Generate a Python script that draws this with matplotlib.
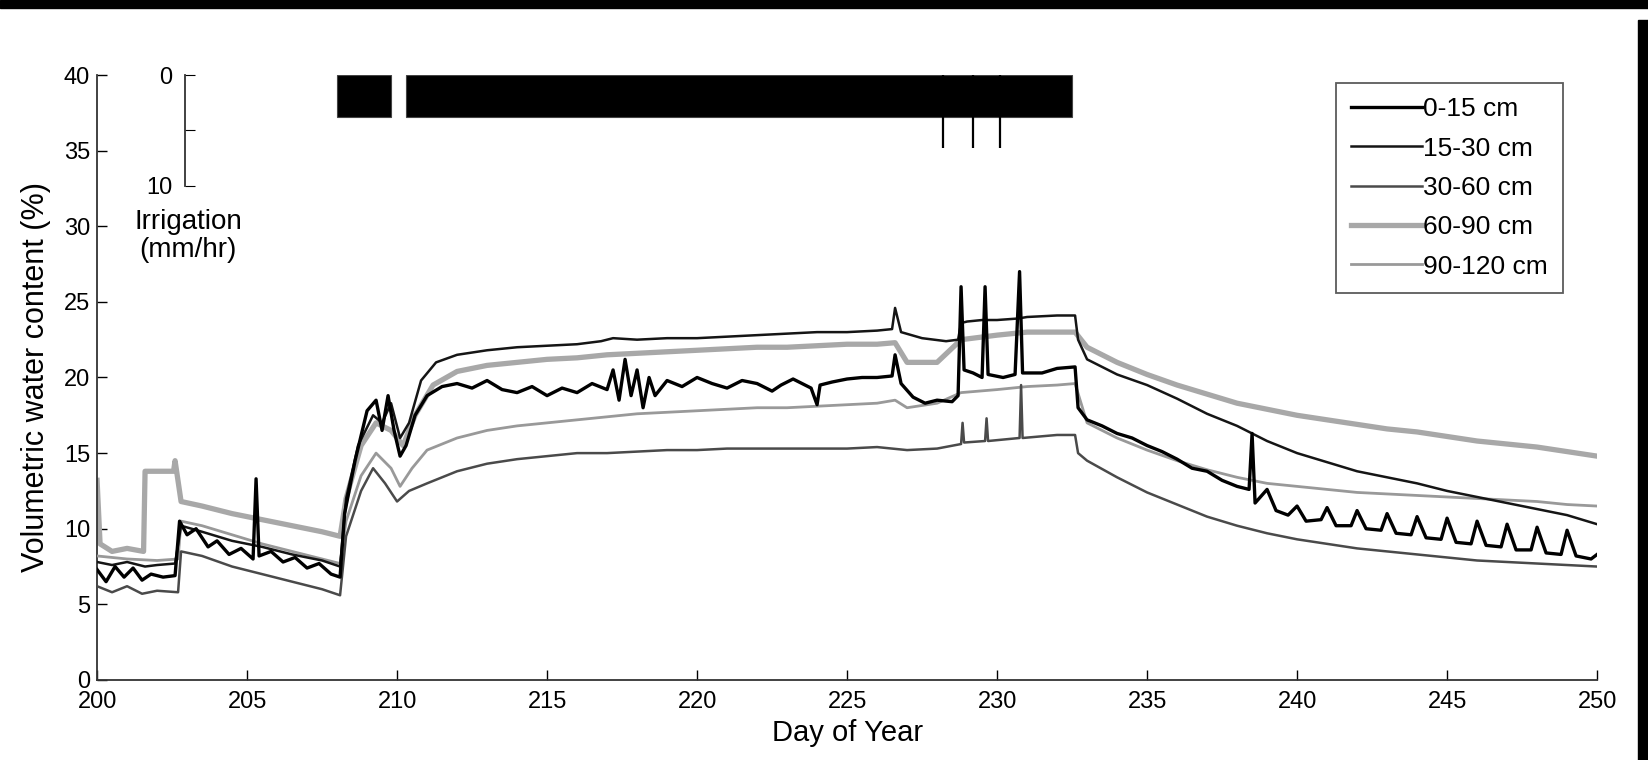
import numpy as np
import matplotlib.pyplot as plt
from matplotlib.patches import Rectangle

plt.rcParams['font.family'] = ['Liberation Sans', 'DejaVu Sans']

# ---------- data ----------
d_0_15 = [200, 200.3, 200.6, 200.9, 201.2, 201.5, 201.8, 202.2, 202.6, 202.75, 203, 203.3, 203.7,
          204, 204.4, 204.8, 205.2, 205.3, 205.4, 205.8, 206.2, 206.6, 207, 207.4, 207.8, 208.1,
          208.25, 208.6, 209, 209.3, 209.5, 209.7, 209.9, 210.1, 210.3, 210.6, 211, 211.5, 212,
          212.5, 213, 213.5, 214, 214.5, 215, 215.5, 216, 216.5, 217, 217.2, 217.4, 217.6, 217.8,
          218, 218.2, 218.4, 218.6, 219, 219.5, 220, 220.5, 221, 221.5, 222, 222.5, 222.8, 223.2,
          223.8, 224, 224.1, 224.5, 225, 225.5, 226, 226.5, 226.6, 226.8, 227.2, 227.6, 228,
          228.5, 228.7, 228.8, 228.9, 229.2, 229.5, 229.6, 229.7, 230.2, 230.6, 230.75, 230.85,
          231.5, 232, 232.6, 232.7, 233, 233.5, 234, 234.5, 235, 235.5, 236, 236.5, 237, 237.5,
          238, 238.4, 238.5, 238.6, 239, 239.3, 239.7, 240, 240.3, 240.8, 241, 241.3, 241.8, 242,
          242.3, 242.8, 243, 243.3, 243.8, 244, 244.3, 244.8, 245, 245.3, 245.8, 246, 246.3,
          246.8, 247, 247.3, 247.8, 248, 248.3, 248.8, 249, 249.3, 249.8, 250]
v_0_15 = [7.3, 6.5, 7.5, 6.8, 7.4, 6.6, 7.0, 6.8, 6.9, 10.5, 9.6, 10.0, 8.8,
          9.2, 8.3, 8.7, 8.0, 13.3, 8.2, 8.5, 7.8, 8.1, 7.4, 7.7, 7.0, 6.8,
          11.0, 14.5, 17.8, 18.5, 16.5, 18.8, 16.5, 14.8, 15.5, 17.5, 18.8, 19.4, 19.6,
          19.3, 19.8, 19.2, 19.0, 19.4, 18.8, 19.3, 19.0, 19.6, 19.2, 20.5, 18.5, 21.2, 18.8,
          20.5, 18.0, 20.0, 18.8, 19.8, 19.4, 20.0, 19.6, 19.3, 19.8, 19.6, 19.1, 19.5, 19.9,
          19.3, 18.2, 19.5, 19.7, 19.9, 20.0, 20.0, 20.1, 21.5, 19.6, 18.7, 18.3, 18.5,
          18.4, 18.8, 26.0, 20.5, 20.3, 20.0, 26.0, 20.2, 20.0, 20.2, 27.0, 20.3,
          20.3, 20.6, 20.7, 18.0, 17.2, 16.8, 16.3, 16.0, 15.5, 15.1, 14.6, 14.0, 13.8, 13.2,
          12.8, 12.6, 16.3, 11.7, 12.6, 11.2, 10.9, 11.5, 10.5, 10.6, 11.4, 10.2, 10.2, 11.2,
          10.0, 9.9, 11.0, 9.7, 9.6, 10.8, 9.4, 9.3, 10.7, 9.1, 9.0, 10.5, 8.9,
          8.8, 10.3, 8.6, 8.6, 10.1, 8.4, 8.3, 9.9, 8.2, 8.0, 8.3]

d_15_30 = [200, 200.5, 201, 201.6, 202, 202.6, 202.8, 203.5, 204.5, 205.5, 206.5, 207.5, 208.1,
           208.3, 208.7, 209.2, 209.5, 209.8, 210.1, 210.4, 210.8, 211.3, 212, 213, 214, 215, 216,
           216.8, 217.2, 218, 219, 220, 221, 222, 223, 224, 225, 226, 226.5, 226.6, 226.8, 227.5,
           228.3, 228.7, 228.8, 229, 229.5, 230, 230.7, 231, 232, 232.6, 232.7, 233, 234, 235,
           236, 237, 238, 239, 240, 241, 242, 243, 244, 245, 246, 247, 248, 249, 250]
v_15_30 = [7.8, 7.6, 7.8, 7.5, 7.6, 7.7, 10.2, 9.8, 9.2, 8.8, 8.3, 7.9, 7.5,
           12.0, 15.5, 17.5, 17.0, 18.3, 16.0, 17.0, 19.8, 21.0, 21.5, 21.8, 22.0, 22.1, 22.2,
           22.4, 22.6, 22.5, 22.6, 22.6, 22.7, 22.8, 22.9, 23.0, 23.0, 23.1, 23.2, 24.6, 23.0, 22.6,
           22.4, 22.5, 23.6, 23.7, 23.8, 23.8, 23.9, 24.0, 24.1, 24.1, 22.5, 21.2, 20.2, 19.5,
           18.6, 17.6, 16.8, 15.8, 15.0, 14.4, 13.8, 13.4, 13.0, 12.5, 12.1, 11.7, 11.3, 10.9, 10.3]

d_30_60 = [200, 200.5, 201, 201.5, 202, 202.7, 202.8, 203.5, 204.5, 205.5, 206.5, 207.5, 208.1,
           208.3, 208.8, 209.2, 209.6, 210.0, 210.4, 211, 212, 213, 214, 215, 216, 217, 218, 219,
           220, 221, 222, 223, 224, 225, 226, 227, 228, 228.8, 228.85, 228.9, 229.6, 229.65,
           229.7, 230.75, 230.8, 230.85, 232, 232.6, 232.7, 233, 234, 235, 236, 237, 238, 239,
           240, 241, 242, 243, 244, 245, 246, 247, 248, 249, 250]
v_30_60 = [6.2, 5.8, 6.2, 5.7, 5.9, 5.8, 8.5, 8.2, 7.5, 7.0, 6.5, 6.0, 5.6,
           9.5, 12.5, 14.0, 13.0, 11.8, 12.5, 13.0, 13.8, 14.3, 14.6, 14.8, 15.0, 15.0, 15.1, 15.2,
           15.2, 15.3, 15.3, 15.3, 15.3, 15.3, 15.4, 15.2, 15.3, 15.6, 17.0, 15.7, 15.8, 17.3,
           15.8, 16.0, 19.5, 16.0, 16.2, 16.2, 15.0, 14.5, 13.4, 12.4, 11.6, 10.8, 10.2, 9.7,
           9.3, 9.0, 8.7, 8.5, 8.3, 8.1, 7.9, 7.8, 7.7, 7.6, 7.5]

d_60_90 = [200, 200.1, 200.5, 201, 201.55, 201.6, 202.55, 202.6, 202.8, 203.5, 204.5, 205.5, 206.5,
           207.5, 208.1, 208.3, 208.8, 209.3, 209.8, 210.2, 210.6, 211.2, 212, 213, 214, 215, 216,
           217, 218, 219, 220, 221, 222, 223, 224, 225, 226, 226.6, 227, 228, 228.8, 230, 231,
           232, 232.6, 233, 234, 235, 236, 237, 238, 239, 240, 241, 242, 243, 244, 245, 246,
           247, 248, 249, 250]
v_60_90 = [13.2, 9.0, 8.5, 8.7, 8.5, 13.8, 13.8, 14.5, 11.8, 11.5, 11.0, 10.6, 10.2,
           9.8, 9.5, 12.0, 15.5, 17.0, 16.5, 15.5, 17.5, 19.5, 20.4, 20.8, 21.0, 21.2, 21.3,
           21.5, 21.6, 21.7, 21.8, 21.9, 22.0, 22.0, 22.1, 22.2, 22.2, 22.3, 21.0, 21.0, 22.5,
           22.8, 23.0, 23.0, 23.0, 22.0, 21.0, 20.2, 19.5, 18.9, 18.3, 17.9, 17.5, 17.2, 16.9,
           16.6, 16.4, 16.1, 15.8, 15.6, 15.4, 15.1, 14.8]

d_90_120 = [200, 201, 202, 202.7, 202.8, 203.5, 204.5, 205.5, 206.5, 207.5, 208.1, 208.3, 208.8,
            209.3, 209.8, 210.1, 210.5, 211, 212, 213, 214, 215, 216, 217, 218, 219, 220, 221,
            222, 223, 224, 225, 226, 226.6, 227, 228, 228.8, 230, 231, 232, 232.6, 233, 234,
            235, 236, 237, 238, 239, 240, 241, 242, 243, 244, 245, 246, 247, 248, 249, 250]
v_90_120 = [8.2, 8.0, 7.9, 8.0, 10.5, 10.2, 9.6, 9.0, 8.5, 8.0, 7.7, 10.5, 13.5,
            15.0, 14.0, 12.8, 14.0, 15.2, 16.0, 16.5, 16.8, 17.0, 17.2, 17.4, 17.6, 17.7, 17.8, 17.9,
            18.0, 18.0, 18.1, 18.2, 18.3, 18.5, 18.0, 18.3, 19.0, 19.2, 19.4, 19.5, 19.6, 17.0, 16.0,
            15.2, 14.5, 13.9, 13.4, 13.0, 12.8, 12.6, 12.4, 12.3, 12.2, 12.1, 12.0, 11.9, 11.8, 11.6, 11.5]

# irrigation (mm/hr): blocks and short spikes
irr_start = [208.0, 210.3]
irr_end = [209.8, 232.5]
irr_rate = [3.8, 3.8]
spike_day = [228.2, 229.2, 230.1]
spike_rate = [6.6, 6.6, 6.6]

labels = ['0-15 cm', '15-30 cm', '30-60 cm', '60-90 cm', '90-120 cm']

# ---------- figure ----------
fig = plt.figure(figsize=(16.48, 7.6), dpi=100)
ax = fig.add_axes([0.0589, 0.1053, 0.9102, 0.796])

styles = {
    '60-90 cm':  dict(color='#a8a8a8', lw=3.8, zorder=2),
    '90-120 cm': dict(color='#999999', lw=2.0, zorder=3),
    '30-60 cm':  dict(color='#4a4a4a', lw=1.8, zorder=4),
    '15-30 cm':  dict(color='#151515', lw=1.8, zorder=5),
    '0-15 cm':   dict(color='black', lw=2.4, zorder=6),
}
series = {
    '0-15 cm': (d_0_15, v_0_15),
    '15-30 cm': (d_15_30, v_15_30),
    '30-60 cm': (d_30_60, v_30_60),
    '60-90 cm': (d_60_90, v_60_90),
    '90-120 cm': (d_90_120, v_90_120),
}
handles = {}
for lab in ['60-90 cm', '90-120 cm', '30-60 cm', '15-30 cm', '0-15 cm']:
    d, v = series[lab]
    handles[lab], = ax.plot(d, v, label=lab, **styles[lab])

ax.set_xlim(200, 250)
ax.set_ylim(0, 40)
ax.set_xticks(np.arange(200, 251, 5))
ax.set_yticks(np.arange(0, 41, 5))
for s in ['top', 'right']:
    ax.spines[s].set_visible(False)
for s in ['left', 'bottom']:
    ax.spines[s].set_color('#333333')
    ax.spines[s].set_linewidth(1.3)
ax.tick_params(direction='in', length=7, width=1, labelsize=17, colors='black')
ax.tick_params(axis='x', pad=8)
ax.tick_params(axis='y', pad=5)
ax.set_xlabel('Day of Year', fontsize=21, labelpad=4)
ax.set_ylabel('Volumetric water content (%)', fontsize=22, labelpad=9)

leg = ax.legend([handles[l] for l in labels], labels, loc='upper right',
                bbox_to_anchor=(0.977, 0.987), fontsize=19, frameon=True,
                fancybox=False, edgecolor='#333333', handlelength=2.7,
                handletextpad=0.05, labelspacing=0.58, borderpad=0.55, borderaxespad=0)
leg.get_frame().set_linewidth(1.3)

# irrigation axis hanging from the top
ax2 = fig.add_axes([0.0589, 0.7553, 0.9102, 0.1460])
ax2.patch.set_alpha(0)
ax2.set_xlim(200, 250)
ax2.set_ylim(10, 0)
for s in ['top', 'right', 'bottom']:
    ax2.spines[s].set_visible(False)
ax2.spines['left'].set_position(('data', 202.93))
ax2.spines['left'].set_color('#333333')
ax2.spines['left'].set_linewidth(1.3)
ax2.set_xticks([])
ax2.set_yticks([0, 5, 10])
ax2.set_yticklabels(['0', '', '10'])
ax2.tick_params(axis='y', direction='in', length=7, labelsize=17, pad=9)
for s, e, r in zip(irr_start, irr_end, irr_rate):
    ax2.bar(s, r, width=e - s, align='edge', color='black', edgecolor='#444444', lw=0.8)
ax2.vlines(spike_day, 0, spike_rate, color='black', lw=1.6)
ax2.text(203.03, 12.1, 'Irrigation\n(mm/hr)', ha='center', va='top', fontsize=20,
         linespacing=1.1, clip_on=False)

# scan borders of the original figure
fig.patches.append(Rectangle((0, 1 - 8 / 760), 1, 8 / 760, transform=fig.transFigure,
                             color='black', zorder=10))
fig.patches.append(Rectangle((1638 / 1648, 0), 10 / 1648, 1 - 20 / 760,
                             transform=fig.transFigure, color='black', zorder=10))

fig.savefig('out.png', dpi=100)
